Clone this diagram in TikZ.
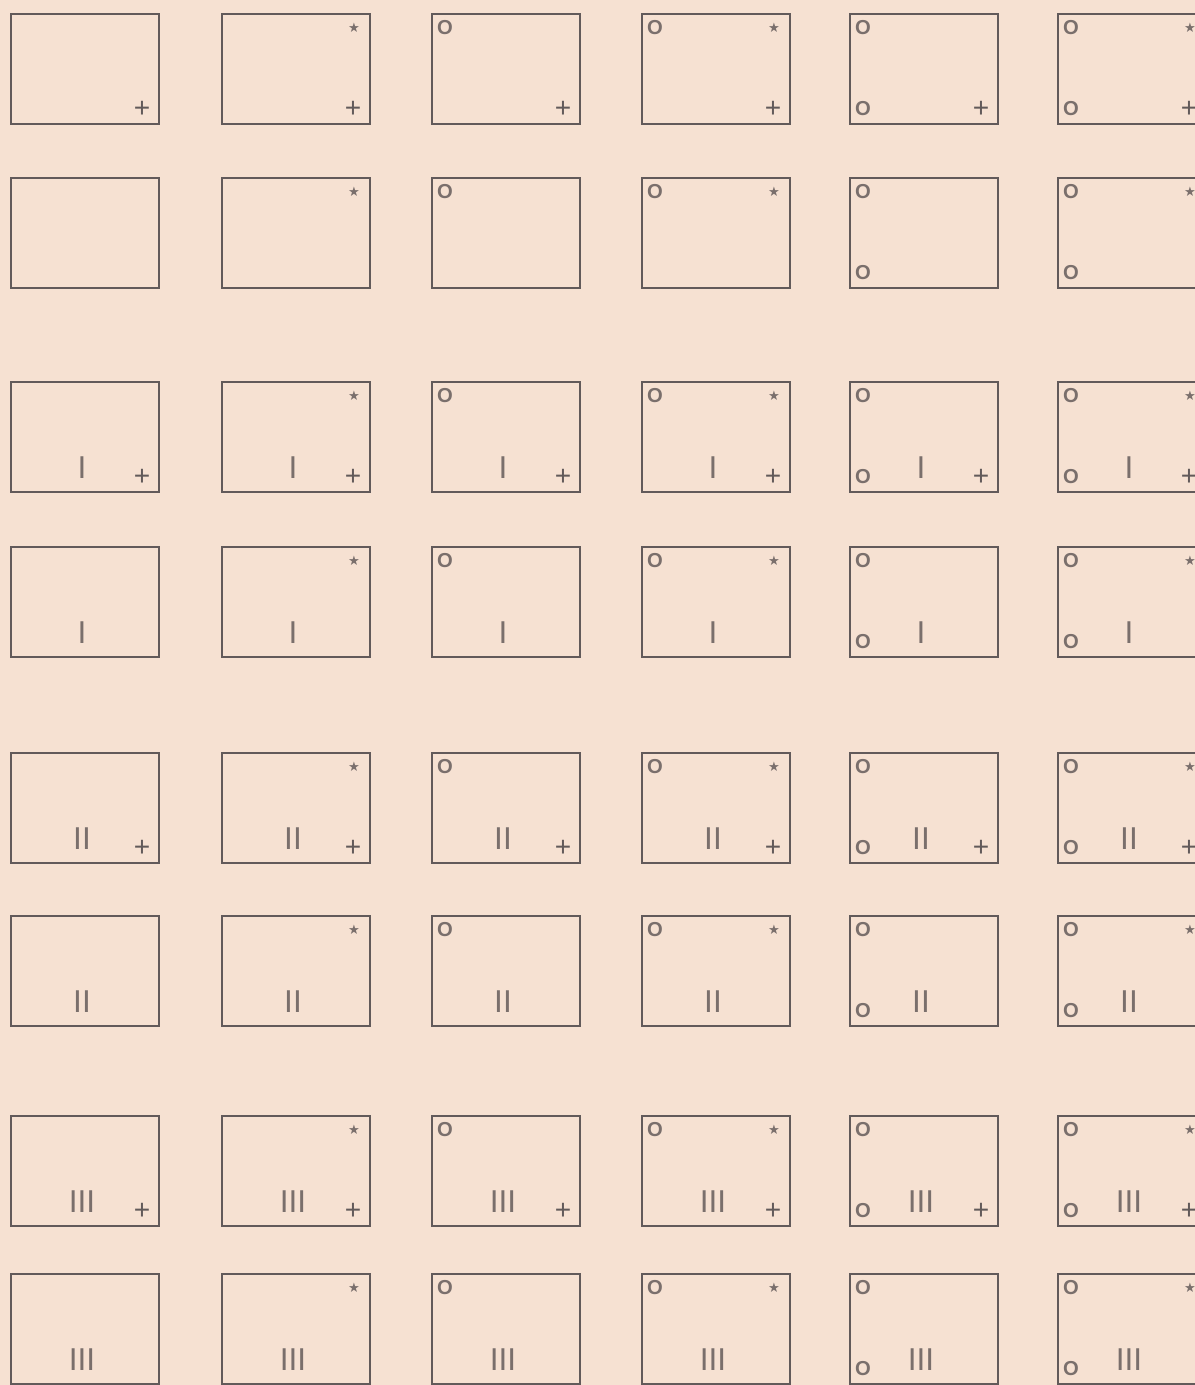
\documentclass[tikz,border=0pt]{standalone}
\usepackage{fontspec}
\setsansfont{Liberation Sans}
\newfontfamily\starfont{DejaVu Sans}
\usepackage{tikz}

\definecolor{paper}{RGB}{246,225,210}
\definecolor{ink}{RGB}{98,90,90}
\definecolor{markgrey}{RGB}{122,111,108}

\begin{document}
\begin{tikzpicture}[x=0.02cm,y=-0.02cm,
	card/.style={draw=ink,line width=0.9pt,minimum width=2.96cm,minimum height=2.2cm,
		inner sep=0pt,anchor=north west},
	sym/.style={text=markgrey,inner sep=0pt,font=\sffamily}]
	
	% --- page and paper ---
	\useasboundingbox (0,0) rectangle (1195,1385);
	\fill[paper] (0,0) rectangle (1195,1385);
	\clip (0,0) rectangle (1195,1385);
	
	% rows: top edge and number of bars; columns: left edge
	\foreach \r/\ry/\n in {1/13/0,2/177/0,3/381/1,4/546/1,5/752/2,6/915/2,7/1115/3,8/1273/3}{
		\foreach \c/\cx in {1/10,2/221,3/431,4/641,5/849,6/1057}{
			\node[card] (card-\r-\c) at (\cx,\ry) {};
			% ring top left
			\ifnum\c>2
			\node[sym,font=\sffamily\bfseries\fontsize{11.5}{11.5}\selectfont] (ringtop-\r-\c) at (\cx+14,\ry+15) {O};
			\fi
			% ring bottom left
			\ifnum\c>4
			\node[sym,font=\sffamily\bfseries\fontsize{11.5}{11.5}\selectfont] (ringbot-\r-\c) at (\cx+14,\ry+96) {O};
			\fi
			% star top right
			\ifodd\c\else
			\node[sym,font=\starfont\fontsize{7.5}{7.5}\selectfont] (star-\r-\c) at (\cx+133,\ry+15) {★};
			\fi
			% cross bottom right
			\ifodd\r
			\node[sym,text=ink,font=\sffamily\fontsize{16}{16}\selectfont] (cross-\r-\c) at (\cx+132,\ry+96) {+};
			\fi
			% bars
			\ifnum\n>0
			\node[sym,font=\sffamily\fontsize{18}{18}\selectfont] (bars-\r-\c) at (\cx+72,\ry+87)
			{\ifcase\n\or I\or II\or III\fi};
			\fi
		}
	}
	
\end{tikzpicture}
\end{document}
